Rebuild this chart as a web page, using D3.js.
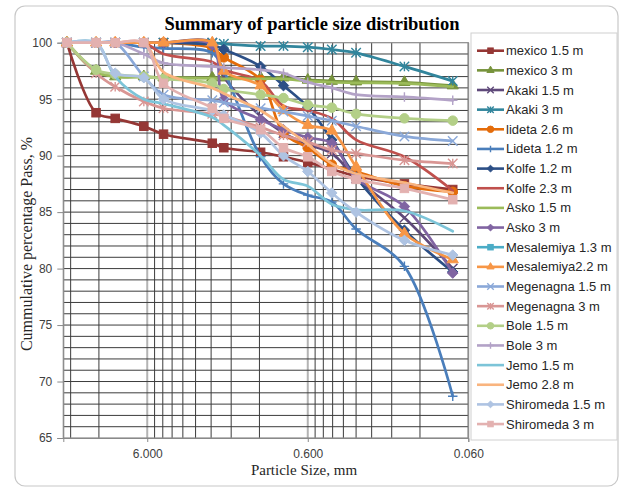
<!DOCTYPE html>
<html>
<head>
<meta charset="utf-8">
<script src="https://cdn.jsdelivr.net/npm/d3@7"></script>
<style>
  html, body { margin: 0; padding: 0; background: #fff; }
  svg { display: block; }
</style>
</head>
<body>
<svg id="chart" width="623" height="489"></svg>
<script>
// ---------------- DATA ----------------
const sieveSizes = [19, 12.5, 9.5, 6.3, 4.75, 2.36, 2.0, 1.18, 0.85, 0.6, 0.425, 0.3, 0.15, 0.075];

const mexico15     = [100, 93.8, 93.3, 92.6, 91.9, 91.1, 90.7, 90.3, 89.9, 89.4, 88.8, 88.2, 87.5, 87.0];
const mexico3      = [100, 97.5, 97.0, 97.0, 96.9, 96.9, 96.9, 96.9, 96.9, 96.7, 96.6, 96.55, 96.5, 96.2];
const akaki15      = [100, 100, 100, 100, 100, 100, 97.0, 93.5, 92.0, 91.0, 90.2, 88.0, 84.5, 80.0];
const akaki3       = [100, 100, 100, 100, 100, 100, 99.9, 99.7, 99.7, 99.6, 99.4, 99.1, 97.9, 96.6];
const lideta26     = [100, 100, 100, 100, 100, 99.5, 98.7, 96.7, 92.0, 90.7, 89.2, 88.6, 87.3, 86.8];
const lideta12     = [100, 100, 100, 99.6, 99.5, 99.1, 97.5, 89.9, 87.5, 86.5, 85.9, 83.5, 80.2, 68.7];
const kolfe12      = [100, 100, 100, 100, 100, 99.8, 99.4, 97.9, 96.2, 94.3, 91.4, 88.1, 83.4, 79.7];
const kolfe23      = [100, 100, 100, 100, 99.0, 98.3, 97.6, 96.6, 94.4, 94.0, 93.3, 91.4, 89.9, 86.9];
const asko15       = [100, 97.4, 97.0, 96.95, 96.9, 96.85, 96.8, 96.8, 96.8, 96.6, 96.5, 96.45, 96.4, 96.1];
const asko3        = [100, 100, 100, 100, 100, 99.8, 95.0, 93.2, 92.3, 91.6, 91.1, 88.0, 85.5, 79.6];
const mesalemiya13 = [null, null, null, null, null, null, null, null, null, null, null, null, null, null];
const mesalemiya22 = [100, 100, 100, 100, 100, 100, 97.5, 96.2, 94.0, 92.7, 92.2, 89.0, 83.1, 80.8];
const megenagna15  = [100, 100, 100, 97.0, 95.4, 94.9, 94.7, 94.2, 93.9, 93.5, 93.1, 92.6, 91.7, 91.3];
const megenagna3   = [100, 97.3, 96.1, 94.8, 94.2, 93.7, 93.5, 92.5, 91.8, 91.2, 90.5, 90.2, 89.6, 89.3];
const bole15       = [100, 97.6, 97.2, 97.0, 96.8, 96.4, 95.9, 95.4, 95.1, 94.5, 94.25, 93.7, 93.3, 93.1];
const bole3        = [100, 100, 100, 99.0, 98.2, 97.9, 97.8, 97.6, 97.3, 96.5, 96.0, 95.4, 95.2, 94.9];
const jemo15       = [100, 100, 97.0, 95.0, 94.6, 93.4, 92.7, 90.0, 87.9, 87.3, 85.7, 85.2, 85.1, 83.3];
const jemo28       = [100, 100, 100, 100, 97.4, 96.0, 95.5, 94.0, 92.6, 91.0, 89.3, 88.4, 87.6, 86.7];
const shiromeda15  = [100, 100, 97.3, 96.9, 95.0, 94.0, 93.6, 92.0, 90.0, 88.6, 86.7, 85.0, 82.5, 81.2];
const shiromeda3   = [100, 100, 100, 100, 96.4, 94.2, 93.3, 92.3, 90.7, 89.9, 88.6, 87.9, 87.1, 86.1];

const seriesNames = ["mexico 1.5 m", "mexico 3 m", "Akaki 1.5 m", "Akaki 3 m", "lideta 2.6 m",
  "Lideta 1.2 m", "Kolfe 1.2 m", "Kolfe 2.3 m", "Asko 1.5 m", "Asko 3 m", "Mesalemiya 1.3 m",
  "Mesalemiya2.2 m", "Megenagna 1.5 m", "Megenagna 3 m", "Bole 1.5 m", "Bole 3 m", "Jemo 1.5 m",
  "Jemo 2.8 m", "Shiromeda 1.5 m", "Shiromeda 3 m"];
const seriesValues = [mexico15, mexico3, akaki15, akaki3, lideta26, lideta12, kolfe12, kolfe23,
  asko15, asko3, mesalemiya13, mesalemiya22, megenagna15, megenagna3, bole15, bole3, jemo15,
  jemo28, shiromeda15, shiromeda3];

const xTickValues = [6, 0.6, 0.06];
const xTickLabels = ["6.000", "0.600", "0.060"];
const yTickValues = [65, 70, 75, 80, 85, 90, 95, 100];

// ---------------- STYLE ----------------
const seriesColors = ["#953735", "#77933C", "#5F497A", "#31859C", "#E46C0A", "#4A7EBB", "#2C4F86",
  "#C0504D", "#9BBB59", "#8064A2", "#4BACC6", "#F79646", "#8AA8D8", "#D99694", "#B3CF87",
  "#B3A2C7", "#7CC4D8", "#F9B47E", "#AEC3E2", "#E3B1B0"];
const seriesMarkers = ["square", "triangle", "cross", "star", "circle", "plus", "diamond", "none",
  "none", "diamond", "square", "triangle", "cross", "star", "circle", "plus", "none", "none",
  "diamond", "square"];

const svg = d3.select("#chart");
const plot = { left: 63.3, right: 468.3, top: 42.7, bottom: 438 };

// outer rounded border
svg.append("rect").attr("x", 15).attr("y", 6).attr("width", 603).attr("height", 480)
  .attr("rx", 10).attr("fill", "#fff").attr("stroke", "#c8c8c8").attr("stroke-width", 1.2);

const x = d3.scaleLog().domain([20, 0.06]).range([plot.left, plot.right]);
const y = d3.scaleLinear().domain([65, 100]).range([plot.bottom, plot.top]);

// minor vertical gridlines (log minor)
const minorX = [];
[0.06, 0.6, 6].forEach(b => { for (let k = 2; k <= 9; k++) { const v = b * k; if (v < 20) minorX.push(v); } });
const g = svg.append("g");
g.selectAll("line.mx").data(minorX).join("line")
  .attr("x1", d => x(d)).attr("x2", d => x(d)).attr("y1", plot.top).attr("y2", plot.bottom)
  .attr("stroke", "#3c3c3c").attr("stroke-width", 1);
g.selectAll("line.Mx").data(xTickValues).join("line")
  .attr("x1", d => x(d)).attr("x2", d => x(d)).attr("y1", plot.top).attr("y2", plot.bottom)
  .attr("stroke", "#b4b4b4").attr("stroke-width", 2);
// horizontal gridlines every 1 %
g.selectAll("line.hy").data(d3.range(66, 100)).join("line")
  .attr("x1", plot.left).attr("x2", plot.right).attr("y1", d => y(d)).attr("y2", d => y(d))
  .attr("stroke", "#3c3c3c").attr("stroke-width", 1);
// plot border
svg.append("rect").attr("x", plot.left).attr("y", plot.top)
  .attr("width", plot.right - plot.left).attr("height", plot.bottom - plot.top)
  .attr("fill", "none").attr("stroke", "#8a8a8a").attr("stroke-width", 1.2);

// axes
const yAxis = d3.axisLeft(y).tickValues(yTickValues).tickSize(6).tickPadding(5);
const ya = svg.append("g").attr("transform", `translate(${plot.left},0)`).call(yAxis);
ya.select(".domain").attr("stroke", "#8a8a8a");
ya.selectAll(".tick line").attr("stroke", "#8a8a8a");
ya.selectAll(".tick text").attr("font-family", "Liberation Sans, Arial, sans-serif")
  .attr("font-size", 12).attr("fill", "#404040");

const xAxis = d3.axisBottom(x).tickValues(xTickValues)
  .tickFormat((d, i) => xTickLabels[i]).tickSize(4).tickPadding(7);
const xa = svg.append("g").attr("transform", `translate(0,${plot.bottom})`).call(xAxis);
xa.select(".domain").attr("stroke", "#8a8a8a");
xa.selectAll(".tick line").attr("stroke", "#8a8a8a");
xa.selectAll(".tick text").attr("font-family", "Liberation Sans, Arial, sans-serif")
  .attr("font-size", 12).attr("fill", "#404040");

// marker drawing
function drawMarker(sel, type, color, size) {
  const s = size;
  if (type === "square") {
    sel.append("rect").attr("x", -s / 2).attr("y", -s / 2).attr("width", s).attr("height", s)
      .attr("fill", color).attr("stroke", color);
  } else if (type === "triangle") {
    sel.append("path").attr("d", d3.symbol(d3.symbolTriangle, s * s * 0.75)())
      .attr("fill", color).attr("stroke", color);
  } else if (type === "diamond") {
    sel.append("path").attr("d", `M0,${-s * 0.62}L${s * 0.62},0L0,${s * 0.62}L${-s * 0.62},0Z`)
      .attr("fill", color).attr("stroke", color);
  } else if (type === "circle") {
    sel.append("circle").attr("r", s / 2 + 0.5).attr("fill", color).attr("stroke", color);
  } else if (type === "cross") {
    const h = s / 2 + 0.5;
    sel.append("path").attr("d", `M${-h},${-h}L${h},${h}M${-h},${h}L${h},${-h}`)
      .attr("stroke", color).attr("stroke-width", 1.4).attr("fill", "none");
  } else if (type === "plus") {
    const h = s / 2 + 0.5;
    sel.append("path").attr("d", `M${-h},0L${h},0M0,${-h}L0,${h}`)
      .attr("stroke", color).attr("stroke-width", 1.4).attr("fill", "none");
  } else if (type === "star") {
    const h = s / 2 + 0.5;
    sel.append("path").attr("d", `M${-h},${-h}L${h},${h}M${-h},${h}L${h},${-h}M0,${-h}L0,${h}`)
      .attr("stroke", color).attr("stroke-width", 1.4).attr("fill", "none");
  }
}

// series lines
const line = d3.line()
  .defined(d => d.v != null)
  .x(d => x(d.s)).y(d => y(d.v))
  .curve(d3.curveCatmullRom.alpha(0.5));

const seriesG = svg.append("g");
seriesValues.forEach((vals, i) => {
  const pts = sieveSizes.map((s, j) => ({ s, v: vals[j] }));
  const gg = seriesG.append("g");
  gg.append("path").attr("d", line(pts)).attr("fill", "none")
    .attr("stroke", seriesColors[i]).attr("stroke-width", 2.7)
    .attr("stroke-linejoin", "round").attr("stroke-linecap", "round");
  if (seriesMarkers[i] !== "none") {
    pts.filter(p => p.v != null).forEach(p => {
      const m = gg.append("g").attr("transform", `translate(${x(p.s)},${y(p.v)})`);
      drawMarker(m, seriesMarkers[i], seriesColors[i], 8.5);
    });
  }
});

// legend
const lg = svg.append("g");
lg.append("rect").attr("x", 471).attr("y", 33).attr("width", 146).attr("height", 407)
  .attr("fill", "none").attr("stroke", "#d0d0d0").attr("stroke-width", 1);
seriesNames.forEach((name, i) => {
  const yy = 50.7 + i * 19.65;
  const it = lg.append("g").attr("transform", `translate(0,${yy})`);
  it.append("line").attr("x1", 477).attr("x2", 504).attr("y1", 0).attr("y2", 0)
    .attr("stroke", seriesColors[i]).attr("stroke-width", 2.6);
  if (seriesMarkers[i] !== "none") {
    const m = it.append("g").attr("transform", "translate(490.5,0)");
    drawMarker(m, seriesMarkers[i], seriesColors[i], 5.5);
  }
  it.append("text").attr("x", 506).attr("y", 4.5).text(name)
    .attr("font-family", "Liberation Sans, Arial, sans-serif").attr("font-size", 13)
    .attr("fill", "#262626");
});

// titles
svg.append("text").attr("x", 312).attr("y", 30).attr("text-anchor", "middle")
  .attr("font-family", "Liberation Serif, Times New Roman, serif").attr("font-weight", "bold")
  .attr("font-size", 18.5).attr("fill", "#000").text("Summary of particle size distribution");
svg.append("text").attr("x", 304).attr("y", 475).attr("text-anchor", "middle")
  .attr("font-family", "Liberation Serif, Times New Roman, serif")
  .attr("font-size", 15).attr("fill", "#262626").text("Particle Size, mm");
svg.append("text").attr("transform", `translate(32,244) rotate(-90)`)
  .attr("text-anchor", "middle")
  .attr("font-family", "Liberation Serif, Times New Roman, serif")
  .attr("font-size", 16).attr("fill", "#262626").text("Cummulative percentage Pass, %");
</script>
</body>
</html>
